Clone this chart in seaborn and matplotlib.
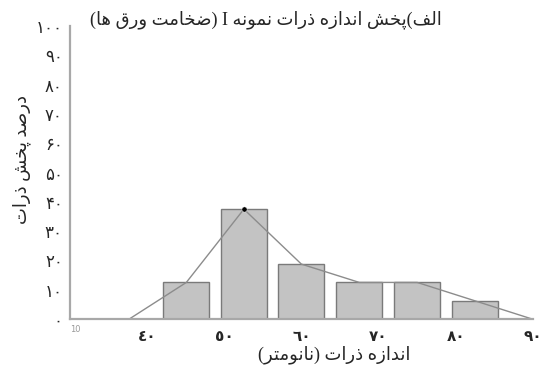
import re
import numpy as np
import pandas as pd
import seaborn as sns
import matplotlib.pyplot as plt

# data
bin_centers = [45.1, 52.55, 60.0, 67.5, 75.0, 82.45]
percent = [12.5, 37.5, 18.75, 12.5, 12.5, 6.25]
poly_x = [37.7] + bin_centers + [89.9]
poly_y = [0] + percent + [0]
x_ticks = [40, 50, 60, 70, 80, 90]
x_ticklabels = ['٤٠', '٥٠', '٦٠', '٧٠', '٨٠', '٩٠']
y_ticks = list(range(0, 101, 10))
y_ticklabels = ['۰', '۱۰', '۲۰', '۳۰', '۴۰', '۵۰', '۶۰', '۷۰', '۸۰', '۹۰', '۱۰۰']
title = 'الف)پخش اندازه ذرات نمونه I (ضخامت ورق ها)'
xlabel = 'اندازه ذرات (نانومتر)'
ylabel = 'درصد پخش ذرات'

# --- minimal arabic/persian shaping, matplotlib has no shaper ---
# right-joining letters: (isolated, final)
RJ = {
    'ا': 'ﺍﺎ', 'د': 'ﺩﺪ', 'ذ': 'ﺫﺬ', 'ر': 'ﺭﺮ', 'ز': 'ﺯﺰ',
    'و': 'ﻭﻮ', 'ژ': '\ufb8a\ufb8b',
}
# dual-joining letters: (isolated, final, initial, medial)
DJ = {
    'ب': 'ﺏﺐﺑﺒ', 'ت': 'ﺕﺖﺗﺘ', 'ث': 'ﺙﺚﺛﺜ', 'ج': 'ﺝﺞﺟﺠ',
    'ح': 'ﺡﺢﺣﺤ', 'خ': 'ﺥﺦﺧﺨ', 'س': 'ﺱﺲﺳﺴ', 'ش': 'ﺵﺶﺷﺸ',
    'ص': 'ﺹﺺﺻﺼ', 'ض': 'ﺽﺾﺿﻀ', 'ط': 'ﻁﻂﻃﻄ', 'ظ': 'ﻅﻆﻇﻈ',
    'ع': 'ﻉﻊﻋﻌ', 'غ': 'ﻍﻎﻏﻐ', 'ف': 'ﻑﻒﻓﻔ', 'ق': 'ﻕﻖﻗﻘ',
    'ل': 'ﻝﻞﻟﻠ', 'م': 'ﻡﻢﻣﻤ', 'ن': 'ﻥﻦﻧﻨ', 'ه': 'ﻩﻪﻫﻬ',
    'ی': '\ufbfc\ufbfd\ufbfe\ufbff', 'پ': '\ufb56\ufb57\ufb58\ufb59',
    'ک': '\ufb8e\ufb8f\ufb90\ufb91', 'گ': '\ufb92\ufb93\ufb94\ufb95',
    'چ': '\ufb7a\ufb7b\ufb7c\ufb7d',
}
MIRROR = {'(': ')', ')': '('}


def shape(s):
    out = []
    for i, c in enumerate(s):
        if c not in RJ and c not in DJ:
            out.append(c)
            continue
        prev = s[i - 1] if i > 0 else ''
        nxt = s[i + 1] if i + 1 < len(s) else ''
        join_prev = prev in DJ
        join_next = c in DJ and (nxt in DJ or nxt in RJ)
        forms = DJ.get(c) or RJ.get(c)
        if join_prev and join_next:
            out.append(forms[3])
        elif join_prev:
            out.append(forms[1])
        elif join_next:
            out.append(forms[2])
        else:
            out.append(forms[0])
    return ''.join(out)


def rtl(s):
    s = shape(s)
    toks = re.findall(r'[A-Za-z0-9\u0660-\u0669\u06F0-\u06F9]+|.', s)
    toks = [t if re.match(r'[A-Za-z0-9\u0660-\u0669\u06F0-\u06F9]', t) else MIRROR.get(t, t)
            for t in toks]
    return ''.join(reversed(toks))


sns.set_style("white")
plt.rcParams['font.family'] = ['Liberation Serif', 'DejaVu Sans']

fig = plt.figure(figsize=(5.45, 3.71), dpi=100)
ax = fig.add_axes([0.128, 0.14, 0.85, 0.79])

df = pd.DataFrame({'size': bin_centers, 'percent': percent})
sns.barplot(data=df, x='size', y='percent', native_scale=True, width=0.8,
            color='#c3c3c3', saturation=1, edgecolor='#7a7a7a', linewidth=1, ax=ax)
sns.lineplot(x=poly_x, y=poly_y, color='#8c8c8c', linewidth=1, ax=ax)
peak = int(np.argmax(percent))
sns.scatterplot(x=[bin_centers[peak]], y=[percent[peak]], color='black', s=14,
                zorder=5, ax=ax)

ax.set_xlim(30, 90)
ax.set_ylim(0, 100)
ax.set_xticks(x_ticks)
ax.set_xticklabels(x_ticklabels, family='DejaVu Sans', fontsize=11, fontweight='bold')
ax.set_yticks(y_ticks)
ax.set_yticklabels(y_ticklabels, family='DejaVu Sans', fontsize=12)
ax.tick_params(axis='x', length=0, pad=7)
ax.tick_params(axis='y', length=3, color='#a0a0a0', width=1, pad=2)
ax.set_xlabel('')
ax.set_ylabel('')
for side in ['top', 'right']:
    ax.spines[side].set_visible(False)
for side in ['left', 'bottom']:
    ax.spines[side].set_color('#a8a8a8')
    ax.spines[side].set_linewidth(1.6)

ax.text(0.0, -0.02, '10', transform=ax.transAxes, fontsize=6, color='#999999',
        ha='left', va='top', family='DejaVu Sans')

fig.text(0.488, 0.946, rtl(title), ha='center', va='center', fontsize=13)
fig.text(0.613, 0.043, rtl(xlabel), ha='center', va='center', fontsize=13)
fig.text(0.04, 0.569, rtl(ylabel), ha='center', va='center', fontsize=13, rotation=90)

fig.savefig('out.png', dpi=100)
